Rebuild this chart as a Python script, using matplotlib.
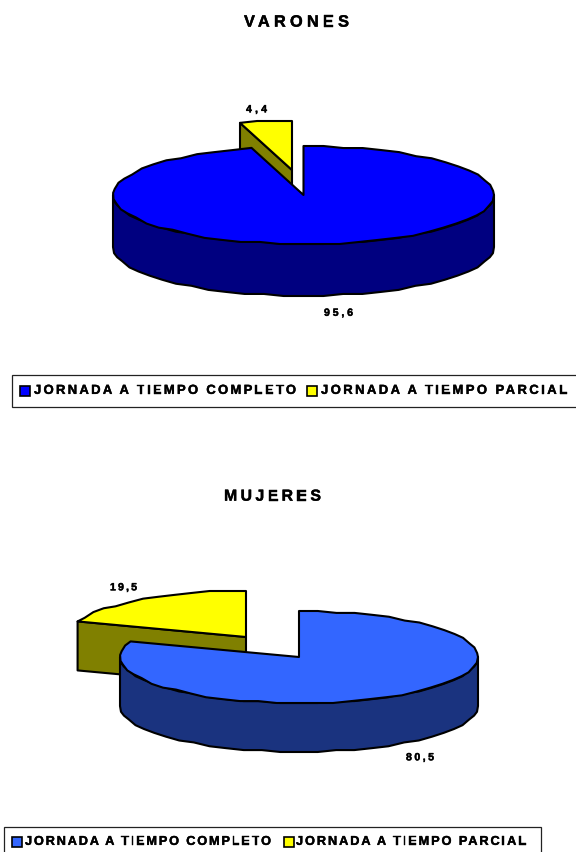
import numpy as np
import matplotlib
matplotlib.use("Agg")
import matplotlib.pyplot as plt
import matplotlib.patheffects as pe
from matplotlib.patches import Polygon, Rectangle
from matplotlib.text import Text

plt.rcParams['font.family'] = ['Liberation Sans', 'DejaVu Sans']
plt.rcParams['text.hinting'] = 'no_hinting'

# ---- data ----
series_names = ["JORNADA A TIEMPO COMPLETO", "JORNADA A TIEMPO PARCIAL"]
varones_values = [95.6, 4.4]
mujeres_values = [80.5, 19.5]
varones_labels = ["95,6", "4,4"]
mujeres_labels = ["80,5", "19,5"]
titles = ["VARONES", "MUJERES"]

W, H = 576, 852
fig = plt.figure(figsize=(W / 100, H / 100), dpi=100, facecolor="white")
ax = fig.add_axes([0, 0, 1, 1])
ax.set_xlim(0, W)
ax.set_ylim(H, 0)
ax.axis("off")

LW = 1.5
OLIVE = "#808000"
YELLOW = "#FFFF00"
BOLDER = [pe.withStroke(linewidth=0.3, foreground="black")]


class SpacedText(Text):
    """One text whose glyphs are tracked out to fill a given width in pixels."""

    def __init__(self, x, y, s, x_right, **kw):
        super().__init__(x, y, s, **kw)
        self._x_right = x_right

    def draw(self, renderer):
        s = self.get_text()
        fp = self.get_fontproperties()

        def w(t):
            return renderer.get_text_width_height_descent(t, fp, False)[0] if t else 0.0

        x0, y0 = self.get_position()
        track = ((self._x_right - x0) - w(s)) / max(len(s) - 1, 1)
        for i, ch in enumerate(s):
            if ch == " ":
                continue
            px = x0 + (w(s[:i + 1]) - w(ch)) + i * track
            t = Text(px, y0, ch, fontproperties=fp, color=self.get_color(),
                     va=self.get_verticalalignment(), ha="left")
            t.set_figure(self.get_figure())
            t.set_transform(self.get_transform())
            t.set_path_effects(BOLDER)
            t.draw(renderer)


def spaced(x0, x1, y, s, size):
    t = SpacedText(x0, y, s, x1, fontsize=size, fontweight="bold", color="black",
                   va="center", clip_on=False)
    ax.add_artist(t)
    return t


def rim(cx, cy, rx, ry, a0, a1, step=6.0):
    """Ellipse points, clockwise from twelve o'clock, angles in degrees."""
    n = max(int(round(abs(a1 - a0) / step)), 1)
    th = np.radians(np.linspace(a0, a1, n + 1))
    x = cx + rx * np.sin(th)
    y = cy - ry * np.cos(th)
    grid = ry / 24.0
    y[1:-1] = cy + np.round((y[1:-1] - cy) / grid) * grid
    return np.column_stack([x, y])


def pie3d(values, cx, cy, rx, ry, depth, offset, main, dark):
    total = sum(values)
    split = 360.0 * values[0] / total
    ox, oy = offset

    # Exploded slice: inner cut face, then its top
    tip = np.array([cx + ox, cy + oy])
    arc = rim(tip[0], tip[1], rx, ry, split, 360.0)
    start = arc[0]
    face = [tip, start, start + [0, depth], tip + [0, depth]]
    ax.add_patch(Polygon(face, closed=True, fc=OLIVE, ec="black", lw=LW, joinstyle="round"))
    ax.add_patch(Polygon(np.vstack([[tip], arc]), closed=True, fc=YELLOW, ec="black",
                         lw=LW, joinstyle="round"))

    # Main slice: front wall, then its top
    front = rim(cx, cy, rx, ry, 90.0, 270.0)
    wall = np.vstack([front, (front + [0, depth])[::-1]])
    ax.add_patch(Polygon(wall, closed=True, fc=dark, ec="black", lw=LW, joinstyle="round"))
    arc = rim(cx, cy, rx, ry, 0.0, split)
    ax.add_patch(Polygon(np.vstack([[(cx, cy)], arc]), closed=True, fc=main, ec="black",
                         lw=LW, joinstyle="round"))


def legend(x0, y0, x1, y1, sw, txt, yc, main, size):
    ax.add_patch(Rectangle((x0, y0), x1 - x0, y1 - y0, fc="white", ec="#222222", lw=0.9,
                           clip_on=False))
    for (sx, (tx0, tx1)), name, col in zip(zip(sw, txt), series_names, [main, YELLOW]):
        ax.add_patch(Rectangle((sx, yc - 5), 10, 10, fc=col, ec="black", lw=1.2))
        spaced(tx0, tx1, yc, name, size)


# ---- top chart ----
spaced(244, 349, 22.5, titles[0], 11.8)
pie3d(varones_values, 303.5, 195, 190.5, 49, 52, (-11.5, -25), "#0000FF", "#000080")
spaced(324, 353, 313, varones_labels[0], 7.6)
spaced(246, 267, 109.5, varones_labels[1], 7.6)
legend(12, 375, 590, 407, (20, 307), ((34, 296), (321, 567)), 390.5, "#0000FF", 9.4)

# ---- bottom chart ----
spaced(224, 321, 496.5, titles[1], 11.4)
pie3d(mujeres_values, 299, 657, 179, 46, 49, (-53, -20), "#3366FF", "#1A337F")
spaced(406, 434, 757.5, mujeres_labels[0], 7.6)
spaced(110, 137, 587.5, mujeres_labels[1], 7.6)
legend(4, 827, 541, 870, (12, 284), ((25, 271), (296, 526)), 841.5, "#3366FF", 9.2)

fig.savefig("out.png", dpi=100)
